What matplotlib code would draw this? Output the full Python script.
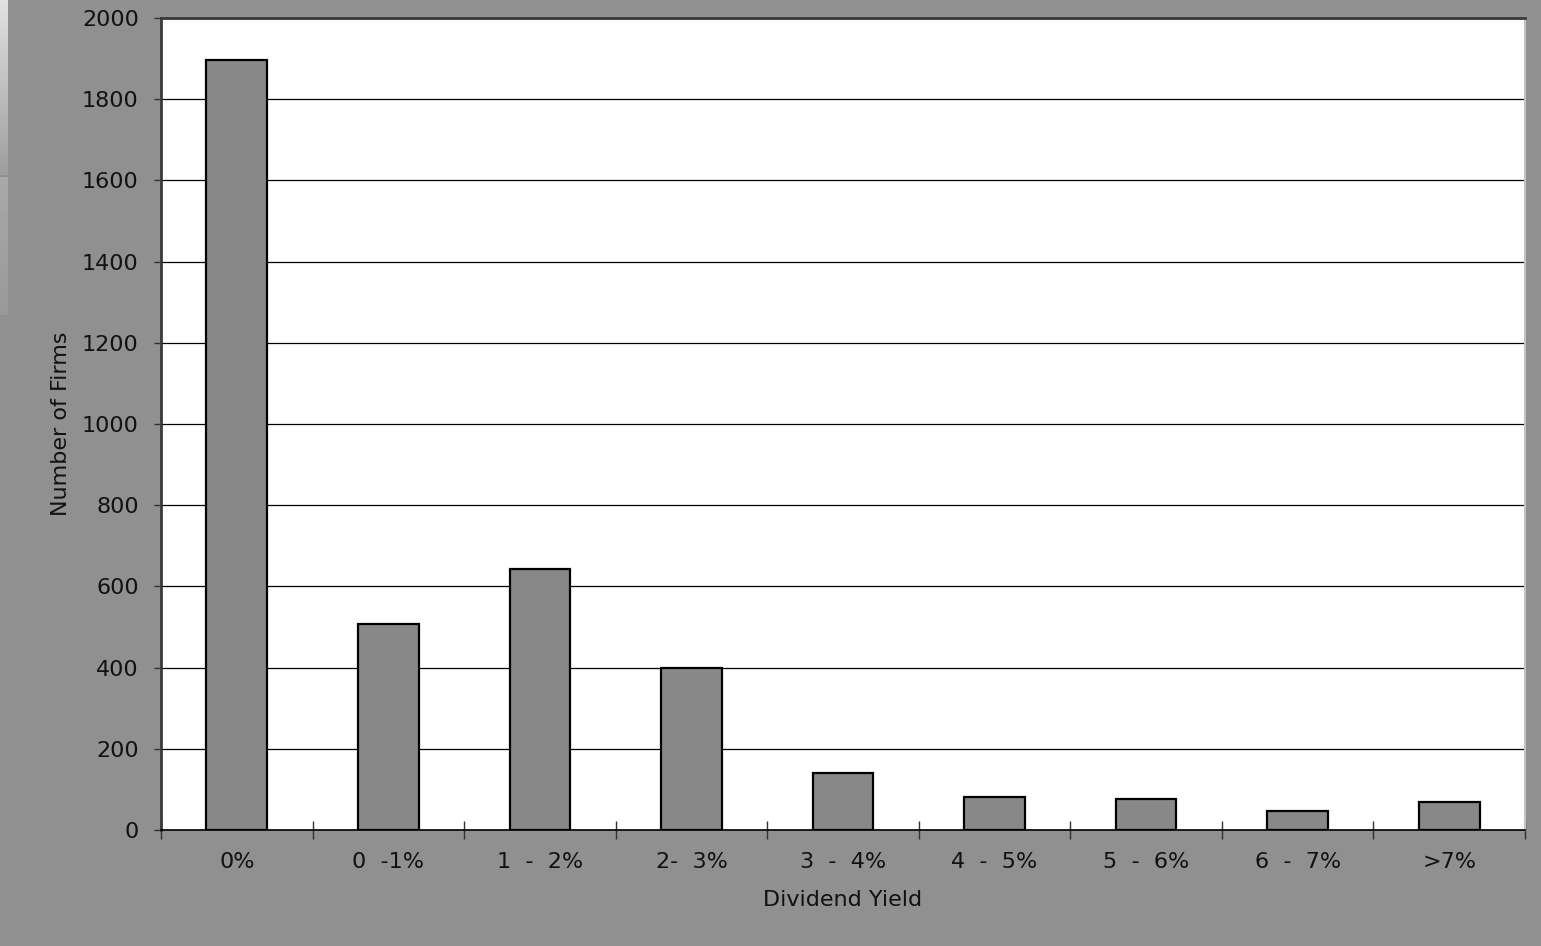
import numpy as np
import matplotlib
matplotlib.use('Agg')
import matplotlib.pyplot as plt
from matplotlib.ticker import FixedLocator, NullFormatter

# Données
categories = ['0%', '0  -1%', '1  -  2%', '2-  3%', '3  -  4%',
              '4  -  5%', '5  -  6%', '6  -  7%', '>7%']
nb_firmes = [1897, 507, 643, 399, 140, 81, 76, 47, 69]
yticks = [0, 200, 400, 600, 800, 1000, 1200, 1400, 1600, 1800, 2000]

FOND = '#909090'
BARRE = '#888888'

fig = plt.figure(figsize=(15.41, 9.46), dpi=100, facecolor=FOND)
ax = fig.add_axes([161 / 1541, 1 - 830 / 946, 1364 / 1541, 812 / 946])
ax.set_facecolor('white')

x = np.arange(len(categories))
ax.bar(x, nb_firmes, width=0.4, color=BARRE, edgecolor='black',
       linewidth=1.6, zorder=3)

ax.set_xlim(-0.5, len(categories) - 0.5)
ax.set_ylim(0, 2000)
ax.set_yticks(yticks)
ax.yaxis.grid(True, color='black', linewidth=0.9, zorder=1)
ax.set_axisbelow(True)

ax.set_xticks(x)
ax.set_xticklabels(categories, fontsize=16, color='#111111')
ax.tick_params(axis='x', which='major', length=0, pad=16)
ax.xaxis.set_minor_locator(FixedLocator(np.arange(-0.5, len(categories), 1.0)))
ax.xaxis.set_minor_formatter(NullFormatter())
ax.tick_params(axis='x', which='minor', direction='inout', length=13,
               width=1, color='#333333')
ax.tick_params(axis='y', length=5, width=1, pad=11, labelsize=16,
               labelcolor='#111111', color='#333333')

for s in ['left', 'top']:
    ax.spines[s].set_color('#3a3a3a')
    ax.spines[s].set_linewidth(2)
ax.spines['bottom'].set_color('black')
ax.spines['bottom'].set_linewidth(1.2)
ax.spines['right'].set_color('#c4c4c4')
ax.spines['right'].set_linewidth(1.5)

ax.set_xlabel('Dividend Yield', fontsize=16, color='#111111', labelpad=13)
ax.set_ylabel('Number of Firms', fontsize=16, color='#111111', labelpad=8)

# petite bande décorative à gauche
bande = fig.add_axes([0, 1 - 175 / 946, 7 / 1541, 175 / 946])
bande.imshow(np.linspace(0.88, 0.62, 50).reshape(-1, 1), cmap='gray',
             vmin=0, vmax=1, aspect='auto')
bande.axis('off')
bande2 = fig.add_axes([0, 1 - 315 / 946, 7 / 1541, 138 / 946])
bande2.imshow(np.linspace(0.66, 0.6, 50).reshape(-1, 1), cmap='gray',
              vmin=0, vmax=1, aspect='auto')
bande2.axis('off')

plt.savefig('out.png', dpi=100, facecolor=FOND)
plt.close('all')
